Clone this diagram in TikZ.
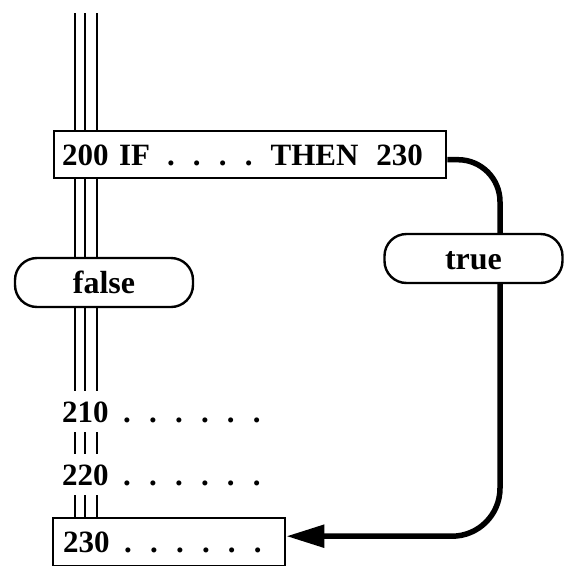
\documentclass[tikz,border=0pt]{standalone}
\usepackage{fontspec}
\setmainfont{Liberation Serif}
\usetikzlibrary{arrows.meta}

% a run of spaced periods: first gap, then count
\newcommand{\dotrun}[2]{\hspace{#1}.\foreach \k in {2,...,#2}{\hspace{18.2pt}.}}

\tikzset{
  codefont/.style={font=\bfseries\fontsize{31pt}{32pt}\selectfont},
  codebox/.style={draw, line width=2.4pt, codefont, anchor=north west,
    inner xsep=8pt, text height=21pt, text depth=0pt, align=left},
  codeline/.style={codefont, anchor=base west, inner xsep=0pt, inner ysep=10pt,
    text height=21pt, text depth=0pt},
  branch/.style={draw, line width=2.4pt, rounded corners=22pt,
    font=\bfseries\fontsize{32pt}{33pt}\selectfont,
    minimum width=178pt, minimum height=49pt, inner sep=0pt,
    text height=21pt, text depth=0pt},
  lane/.style={line width=2.8pt},
  flow/.style={line width=5.5pt}
}

\begin{document}
\begin{tikzpicture}[x=1pt, y=-1pt]
  \useasboundingbox (0,0) rectangle (564,566);

  % program statements
  \node[codebox, inner ysep=13pt, text width=376pt] (if) at (53,130)
    {200 IF\dotrun{17pt}{4}\hspace{18pt}THEN\hspace{18pt}230};
  \node[codeline] (l210) at (62,422) {210\dotrun{14.5pt}{6}};
  \node[codeline] (l220) at (62,485) {220\dotrun{14.5pt}{6}};
  \node[codebox, inner ysep=13.5pt, inner xsep=10pt, text width=212pt] (l230) at (52,517)
    {230\dotrun{14.5pt}{6}};

  % branch outcomes
  \node[branch] (false) at (104,282.5) {false};
  \node[branch] (true) at (473.5,258.5) {true};

  % helper coordinates for the lanes and the jump path
  \coordinate (lane1) at (75,0);
  \coordinate (lane2) at (85,0);
  \coordinate (lane3) at (97,0);
  \coordinate (start) at (0,13);
  \coordinate (vx) at (500,0);
  \coordinate (c1) at ([yshift=-5pt]if.east);
  \coordinate (c2) at ([yshift=6pt]l230.east);

  % sequential flow: three parallel lines
  \foreach \ln in {lane1,lane2,lane3}{
    \draw[lane] (start -| \ln) -- (if.north -| \ln);
    \draw[lane] (if.south -| \ln) -- (false.north -| \ln);
    \draw[lane] (false.south -| \ln) -- (l210.north -| \ln);
    \draw[lane] (l210.south -| \ln) -- (l220.north -| \ln);
    \draw[lane] (l220.south -| \ln) -- (l230.north -| \ln);
  }

  % jump taken when the condition is true
  \draw[flow, rounded corners=42pt] (c1) -- (c1 -| vx) -- (true.north -| vx);
  \draw[flow, rounded corners=48pt, -{Triangle[length=38pt, width=22pt]}]
    (true.south -| vx) -- (c2 -| vx) -- (c2);
\end{tikzpicture}
\end{document}
